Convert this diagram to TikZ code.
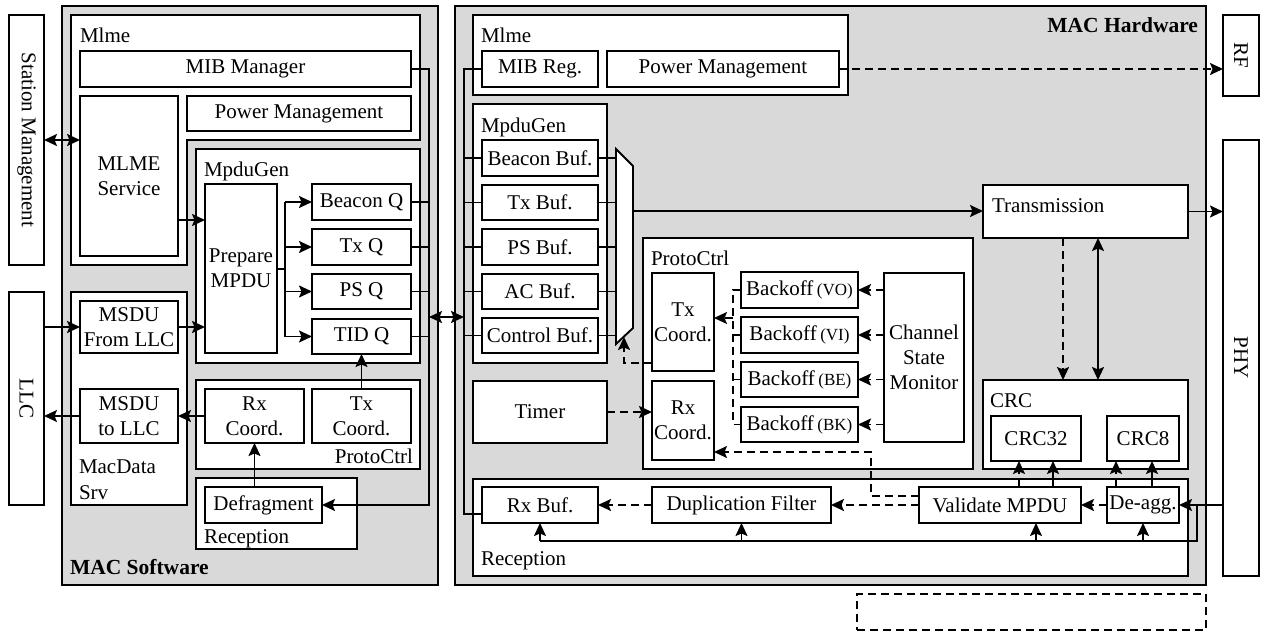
\documentclass[tikz,border=0pt]{standalone}
\usepackage{fontspec}
\usepackage{graphicx}
\setmainfont{Liberation Serif}
\usetikzlibrary{arrows.meta}
\definecolor{panel}{RGB}{217,217,217}
\tikzset{
  box/.style={draw, fill=white, line width=1.9pt, inner sep=0pt, outer sep=0pt, align=center, font=\fontsize{21}{25}\selectfont},
  lbl/.style={inner sep=0pt, outer sep=0pt, font=\fontsize{21}{25}\selectfont},
  blbl/.style={inner sep=0pt, outer sep=0pt, font=\fontsize{21.5}{25}\selectfont\bfseries},
  wire/.style={line width=1.9pt},
  tip/.tip={Stealth[length=13pt,width=12pt,inset=2.5pt]},
  arr/.style={wire, -tip},
  darr/.style={wire, tip-tip},
  dsh/.style={dash pattern=on 8pt off 5pt},
}
\newcommand\bx[6][]{\node[box,minimum width={#4-#2},minimum height={#5-#3},anchor=north west,#1] (#6) at (#2,#3)}
\newcommand\bo[1]{Backoff\,{\fontsize{17}{20}\selectfont(#1)}}
\begin{document}
\begin{tikzpicture}[x=1pt,y=-1pt]
\useasboundingbox (0,0) rectangle (1262,634);
% panels
\bx[fill=panel]{62}{6}{438}{585}{sw}{};
\bx[fill=panel]{455}{6}{1206}{585}{hw}{};
% side blocks
\bx{9}{15}{44}{265}{stm}{\rotatebox{-90}{Station Management}};
\bx{9}{292}{44}{505}{llc}{\rotatebox{-90}{LLC}};
\bx{1223}{15}{1259}{96}{rf}{\rotatebox{-90}{RF}};
\bx{1223}{140}{1259}{576}{phy}{\rotatebox{-90}{PHY}};
% ---------- MAC software ----------
\draw[wire, fill=white] (71,15) -- (420,15) -- (420,140) -- (187,140) -- (187,265) -- (71,265) -- cycle;
\node[lbl, anchor=base west] (swmlme) at (80,43) {Mlme};
\bx{80}{51}{411}{87}{mibm}{MIB Manager};
\bx{80}{96}{178}{256}{mlmes}{MLME\\Service};
\bx{187}{96}{411}{131}{pmsw}{Power Management};
\bx{196}{149}{420}{363}{mpdusw}{};
\node[lbl, anchor=base west] (swmpdu) at (204,176) {MpduGen};
\bx{205}{184}{277}{353}{prep}{Prepare\\MPDU};
\bx{312}{184}{411}{220}{bq}{Beacon Q};
\bx{312}{229}{411}{265}{tq}{Tx Q};
\bx{312}{274}{411}{309}{pq}{PS Q};
\bx{312}{319}{411}{354}{tidq}{TID Q};
\bx{71}{292}{187}{505}{mds}{};
\bx{80}{301}{178}{353}{mfl}{MSDU\\From LLC};
\bx{80}{389}{178}{443}{mtl}{MSDU\\to LLC};
\node[lbl, anchor=base west] (mdsa) at (79,473) {MacData};
\node[lbl, anchor=base west] (mdsb) at (79,499) {Srv};
\bx{196}{380}{420}{469}{pcsw}{};
\bx{205}{389}{304}{443}{rxcsw}{Rx\\Coord.};
\bx{312}{389}{411}{443}{txcsw}{Tx\\Coord.};
\node[lbl, anchor=base east] (swpc) at (413,463) {ProtoCtrl};
\bx{196}{478}{357}{549}{recsw}{};
\bx{205}{487}{322}{523}{defrag}{Defragment};
\node[lbl, anchor=base west] (swrec) at (204,543) {Reception};
\node[blbl, anchor=base west] (swname) at (70,574) {MAC Software};
% ---------- MAC hardware ----------
\node[blbl, anchor=base east] (hwname) at (1198,33) {MAC Hardware};
\bx{473}{15}{848}{95}{mlmehw}{};
\node[lbl, anchor=base west] (hwmlme) at (481,43) {Mlme};
\bx{482}{51}{598}{87}{mibr}{MIB Reg.};
\bx{607}{51}{839}{87}{pmhw}{Power Management};
\bx{473}{104}{607}{363}{mpduhw}{};
\node[lbl, anchor=base west] (hwmpdu) at (481,132) {MpduGen};
\bx{482}{140}{598}{176}{bbuf}{Beacon Buf.};
\bx{482}{185}{598}{220}{tbuf}{Tx Buf.};
\bx{482}{229}{598}{265}{pbuf}{PS Buf.};
\bx{482}{274}{598}{309}{abuf}{AC Buf.};
\bx{482}{318}{598}{353}{cbuf}{Control Buf.};
\draw[wire, fill=white] (616,149) -- (633,166) -- (633,328) -- (616,344) -- cycle;
\coordinate (muxin) at (616,0);
\coordinate (muxout) at (633,211);
\coordinate (muxbot) at (624,337);
\bx{983}{185}{1188}{238}{trans}{};
\node[lbl, anchor=base west] (translbl) at (992,212) {Transmission};
\bx{643}{238}{973}{469}{pchw}{};
\node[lbl, anchor=base west] (hwpc) at (651,265) {ProtoCtrl};
\bx{652}{273}{714}{371}{txchw}{Tx\\Coord.};
\bx{652}{381}{714}{460}{rxchw}{Rx\\Coord.};
\bx{741}{272}{858}{308}{bvo}{\bo{VO}};
\bx{741}{317}{858}{353}{bvi}{\bo{VI}};
\bx{741}{362}{858}{397}{bbe}{\bo{BE}};
\bx{741}{407}{858}{442}{bbk}{\bo{BK}};
\bx{884}{273}{964}{442}{csm}{Channel\\State\\Monitor};
\bx{473}{381}{607}{443}{timer}{Timer};
\bx{983}{380}{1188}{469}{crc}{};
\node[lbl, anchor=base west] (crclbl) at (990,407) {CRC};
\bx{991}{416}{1081}{461}{crc32}{CRC32};
\bx{1107}{416}{1179}{461}{crc8}{CRC8};
\bx{473}{479}{1188}{576}{rechw}{};
\node[lbl, anchor=base west] (hwrec) at (481,565) {Reception};
\bx{482}{487}{598}{523}{rxbuf}{Rx Buf.};
\bx{652}{487}{831}{523}{dup}{Duplication Filter};
\bx{919}{487}{1081}{523}{val}{Validate MPDU};
\bx{1107}{487}{1179}{523}{deagg}{De-agg.};
\bx[fill=none, dsh]{857}{594}{1206}{630}{legend}{};
% ---------- connectors: software ----------
\draw[darr] (stm.east) -- (stm.east -| mlmes.west);
\draw[arr] (mlmes.east |- 0,220) -- (prep.west |- 0,220);
\coordinate (fan) at (285,269);
\draw[wire] (prep.east |- fan) -- (fan);
\draw[wire] (fan |- bq.west) -- (fan |- tidq.west);
\foreach \q in {bq,tq,pq,tidq} \draw[arr] (fan |- \q.west) -- (\q.west);
\draw[arr] (llc.east |- mfl.west) -- (mfl.west);
\draw[arr] (mfl.east) -- (mfl.east -| prep.west);
\draw[arr] (mtl.west) -- (mtl.west -| llc.east);
\draw[arr] (rxcsw.west) -- (mtl.east);
\draw[arr] (txcsw.north) -- (tidq.south);
\draw[arr] (rxcsw.south |- defrag.north) -- (rxcsw.south);
\coordinate (swbus) at (429,0);
\draw[arr] (mibm.east) -| (swbus |- defrag.east) -- (defrag.east);
\foreach \q in {bq,tq,pq,tidq} \draw[wire] (\q.east) -- (\q.east -| swbus);
\coordinate (hwbus) at (464,0);
\draw[darr] (swbus |- 0,317) -- (hwbus |- 0,317);
% ---------- connectors: hardware ----------
\draw[wire] (mibr.west) -| (hwbus |- 0,514) -- (rxbuf.west |- 0,514);
\foreach \b in {bbuf,tbuf,pbuf,abuf,cbuf} {
  \draw[wire] (\b.west) -- (\b.west -| hwbus);
  \draw[wire] (\b.east) -- (\b.east -| muxin);
}
\draw[arr] (muxout) -- (muxout -| trans.west);
\draw[arr] (trans.east) -- (trans.east -| phy.west);
\draw[arr, dsh] (pmhw.east) -- (pmhw.east -| rf.west);
\draw[arr, dsh] (trans.south -| 1063,0) -- (crc.north -| 1063,0);
\draw[darr] (trans.south -| 1098,0) -- (crc.north -| 1098,0);
\draw[arr, dsh] (timer.east) -- (timer.east -| rxchw.west);
\foreach \b in {bvo,bvi,bbe,bbk} \draw[arr, dsh] (\b.east -| csm.west) -- (\b.east);
\coordinate (bkl) at (733,0);
\draw[wire, dsh] (bvo.west) -- (bvo.west -| bkl) -- (bbk.west -| bkl) -- (bbk.west);
\draw[wire] (bvi.west) -- (bvi.west -| bkl);
\draw[wire] (bbe.west) -- (bbe.west -| bkl);
\draw[arr, dsh] (bkl |- 0,318) -- (txchw.east |- 0,318);
\draw[arr, dsh] (txchw.west |- 0,363) -| (muxbot);
\draw[arr, dsh] (val.west |- 0,496) -- (871,496) -- (871,452) -- (rxchw.east |- 0,452);
\draw[arr, dsh] (val.west |- dup.east) -- (dup.east);
\draw[arr, dsh] (dup.west) -- (rxbuf.east);
\draw[arr, dsh] (deagg.west) -- (val.east);
\draw[arr] (deagg.east -| phy.west) -- (deagg.east);
\coordinate (br) at (1197,505);
\draw[wire] (br) -- (1197,541) -- (rxbuf.south |- 0,541);
\draw[arr] (rxbuf.south |- 0,541) -- (rxbuf.south);
\draw[arr] (dup.south |- 0,541) -- (dup.south);
\draw[arr] (1036,541) -- (val.south -| 1036,0);
\draw[arr] (deagg.south |- 0,541) -- (deagg.south);
\draw[arr, dsh] (val.north -| 1019,0) -- (crc32.south -| 1019,0);
\draw[arr] (val.north -| 1053,0) -- (crc32.south -| 1053,0);
\draw[arr, dsh] (deagg.north -| 1116,0) -- (crc8.south -| 1116,0);
\draw[arr] (deagg.north -| 1152,0) -- (crc8.south -| 1152,0);
\end{tikzpicture}
\end{document}
